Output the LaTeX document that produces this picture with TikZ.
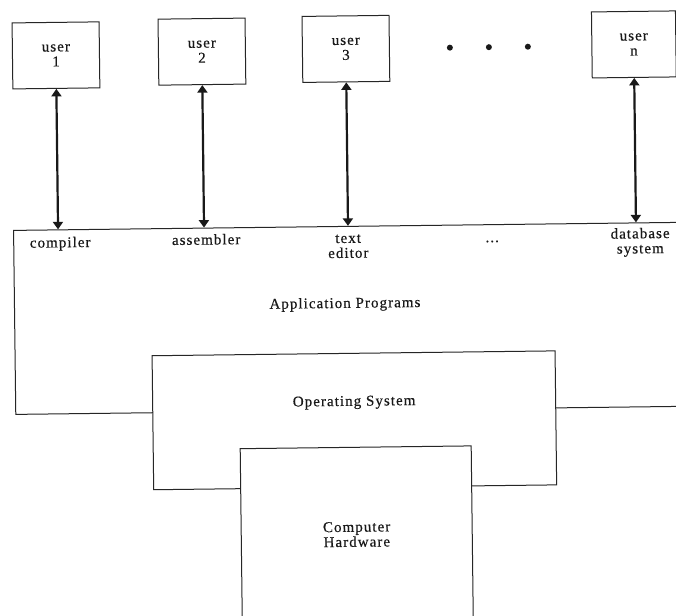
\documentclass[tikz,border=0pt]{standalone}
\usepackage{fontspec}
\setmainfont{Liberation Serif}[LetterSpace=7, FakeBold=0.4]
\usetikzlibrary{arrows.meta}
\begin{document}
\begin{tikzpicture}[x=1pt,y=-1pt,
  every node/.style={font=\fontsize{15}{15}\selectfont, text=black!90, transform shape},
  box/.style={draw=black!85, line width=1pt, fill=white, inner sep=0pt},
  userbox/.style={box, minimum width=87pt, minimum height=66pt, align=center},
  lbl/.style={align=center, inner sep=0pt, anchor=base},
  biarrow/.style={{Triangle[length=7.5pt,width=10pt]}-{Triangle[length=7.5pt,width=10pt]}, line width=2.2pt, black!90},
  dotmark/.style={circle, fill=black!90, inner sep=0pt, minimum size=6pt}]
\useasboundingbox (0,0) rectangle (676,615);
\fill[white] (0,0) rectangle (676,615);
\begin{scope}[rotate around={0.69:(338,307)}]
  % layered boxes
  \node[box, anchor=north west, minimum width=690pt, minimum height=184pt] (app) at (14,226) {};
  \node[box, anchor=north west, minimum width=403pt, minimum height=134pt] (os) at (151,353) {};
  \node[box, anchor=north west, minimum width=231pt, minimum height=200pt] (hw) at (238,447) {};
  \node[lbl] (apptxt) at (345,308) {Application Programs};
  \node[lbl] (ostxt) at (353,406) {Operating System};
  \node[lbl] (hwtxt) at (354,547) {Computer\\Hardware};
  % users
  \node[userbox] (u1) at (59,52) {user\\1};
  \node[userbox] (u2) at (205,50) {user\\2};
  \node[userbox] (u3) at (349,49) {user\\3};
  \node[userbox, minimum width=84pt] (un) at (637,48) {user\\n};
  \node[dotmark] (d1) at (453,49) {};
  \node[dotmark] (d2) at (492,49) {};
  \node[dotmark] (d3) at (531,49) {};
  % program labels
  \node[lbl] (l1) at (61,244) {compiler};
  \node[lbl] (l2) at (207,243) {assembler};
  \node[lbl] (l3) at (349,258) {text\\editor};
  \node[lbl] (l4) at (493,244) {...};
  \node[lbl] (l5) at (641,257) {database\\system};
  % arrow ends on the application layer
  \coordinate (a1) at (59,226);
  \coordinate (a2) at (205,226);
  \coordinate (a3) at (349,226);
  \coordinate (an) at (637,226);
  \draw[biarrow] (u1.south) -- (a1);
  \draw[biarrow] (u2.south) -- (a2);
  \draw[biarrow] (u3.south) -- (a3);
  \draw[biarrow] (un.south) -- (an);
\end{scope}
\end{tikzpicture}
\end{document}
